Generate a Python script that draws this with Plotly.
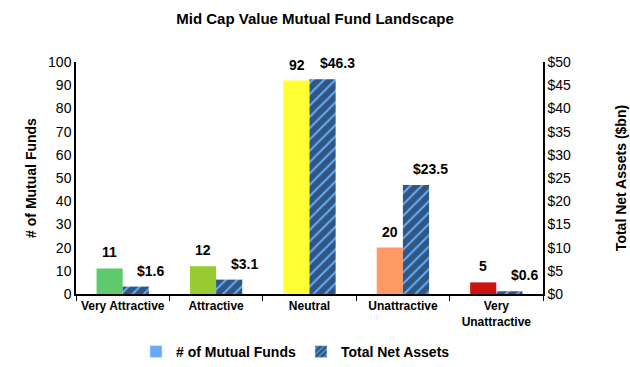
import plotly.graph_objects as go

categories = ["Very Attractive", "Attractive", "Neutral", "Unattractive", "Very<br>Unattractive"]
num_funds = [11, 12, 92, 20, 5]
net_assets = [1.6, 3.1, 46.3, 23.5, 0.6]
bar_colors = ["#5FCA6B", "#99CC33", "#FFFF33", "#FF9966", "#CC1111"]
left_ticks = list(range(0, 101, 10))
right_ticks = list(range(0, 51, 5))

FONT = "Liberation Sans, Arial, sans-serif"
HATCH = dict(shape="/", fgcolor="black", bgcolor="#62ACFF", size=8, solidity=0.75)

fig = go.Figure()
fig.add_trace(go.Bar(
    x=categories, y=num_funds, name="# of Mutual Funds",
    marker=dict(color=bar_colors, line=dict(width=0)),
    offsetgroup="a", yaxis="y", showlegend=False, cliponaxis=False,
))
fig.add_trace(go.Bar(
    x=categories, y=net_assets, name="Total Net Assets",
    marker=dict(color="#62ACFF", line=dict(width=0), pattern=HATCH),
    offsetgroup="b", yaxis="y2", showlegend=False, cliponaxis=False,
))
# legend entries
fig.add_trace(go.Bar(x=[None], y=[None], name="<b># of Mutual Funds</b>",
                     marker=dict(color="#66AAFF"), showlegend=True))
fig.add_trace(go.Bar(x=[None], y=[None], name="<b>Total Net Assets</b>",
                     marker=dict(color="#62ACFF", pattern=dict(HATCH, size=5)),
                     showlegend=True))

# data labels
for c, v in zip(categories, num_funds):
    fig.add_annotation(x=c, y=v, xref="x", yref="y", text=f"<b>{v}</b>", showarrow=False,
                       xshift=-13, yshift=6, yanchor="bottom",
                       font=dict(family=FONT, size=14, color="black"))
for c, v in zip(categories, net_assets):
    fig.add_annotation(x=c, y=v, xref="x", yref="y2", text=f"<b>${v:.1f}</b>", showarrow=False,
                       xshift=28, yshift=6, yanchor="bottom",
                       font=dict(family=FONT, size=14, color="black"))

fig.update_layout(
    width=630, height=367,
    margin=dict(l=76, r=87, t=62, b=73, autoexpand=False),
    paper_bgcolor="white", plot_bgcolor="white",
    barmode="group", bargap=0.44, bargroupgap=0,
    font=dict(family=FONT, size=13, color="black"),
    title=dict(text="<b>Mid Cap Value Mutual Fund Landscape</b>", x=0.5, xanchor="center",
               y=0.95, yanchor="middle", yref="container", font=dict(size=15, family=FONT)),
    xaxis=dict(showline=True, linecolor="black", linewidth=1.5, ticks="outside",
               tickson="boundaries", ticklen=5, tickcolor="black", automargin=False,
               tickfont=dict(family=FONT, size=12), showgrid=False,
               tickprefix="<b>", ticksuffix="</b>",
               categoryorder="array", categoryarray=categories),
    yaxis=dict(range=[0, 100], tickvals=left_ticks, showline=True, linecolor="black",
               linewidth=1.5, showgrid=False, zeroline=False, ticks="", automargin=False,
               title=dict(text="<b># of Mutual Funds</b>", font=dict(size=14), standoff=8),
               tickfont=dict(size=14)),
    yaxis2=dict(range=[0, 50], tickvals=right_ticks, ticktext=["$" + str(v) for v in right_ticks],
                overlaying="y", side="right", showline=True, linecolor="black", linewidth=1.5,
                showgrid=False, zeroline=False, ticks="", automargin=False,
                title=dict(text="<b>Total Net Assets ($bn)</b>", font=dict(size=14), standoff=46),
                tickfont=dict(size=14)),
    legend=dict(orientation="h", x=0.47, xanchor="center", y=-0.25, yanchor="middle",
                font=dict(size=14, family=FONT), itemwidth=30, traceorder="normal"),
)

fig.write_html("out.html", config={"displayModeBar": False},
               post_script="document.body.style.margin='0';")
